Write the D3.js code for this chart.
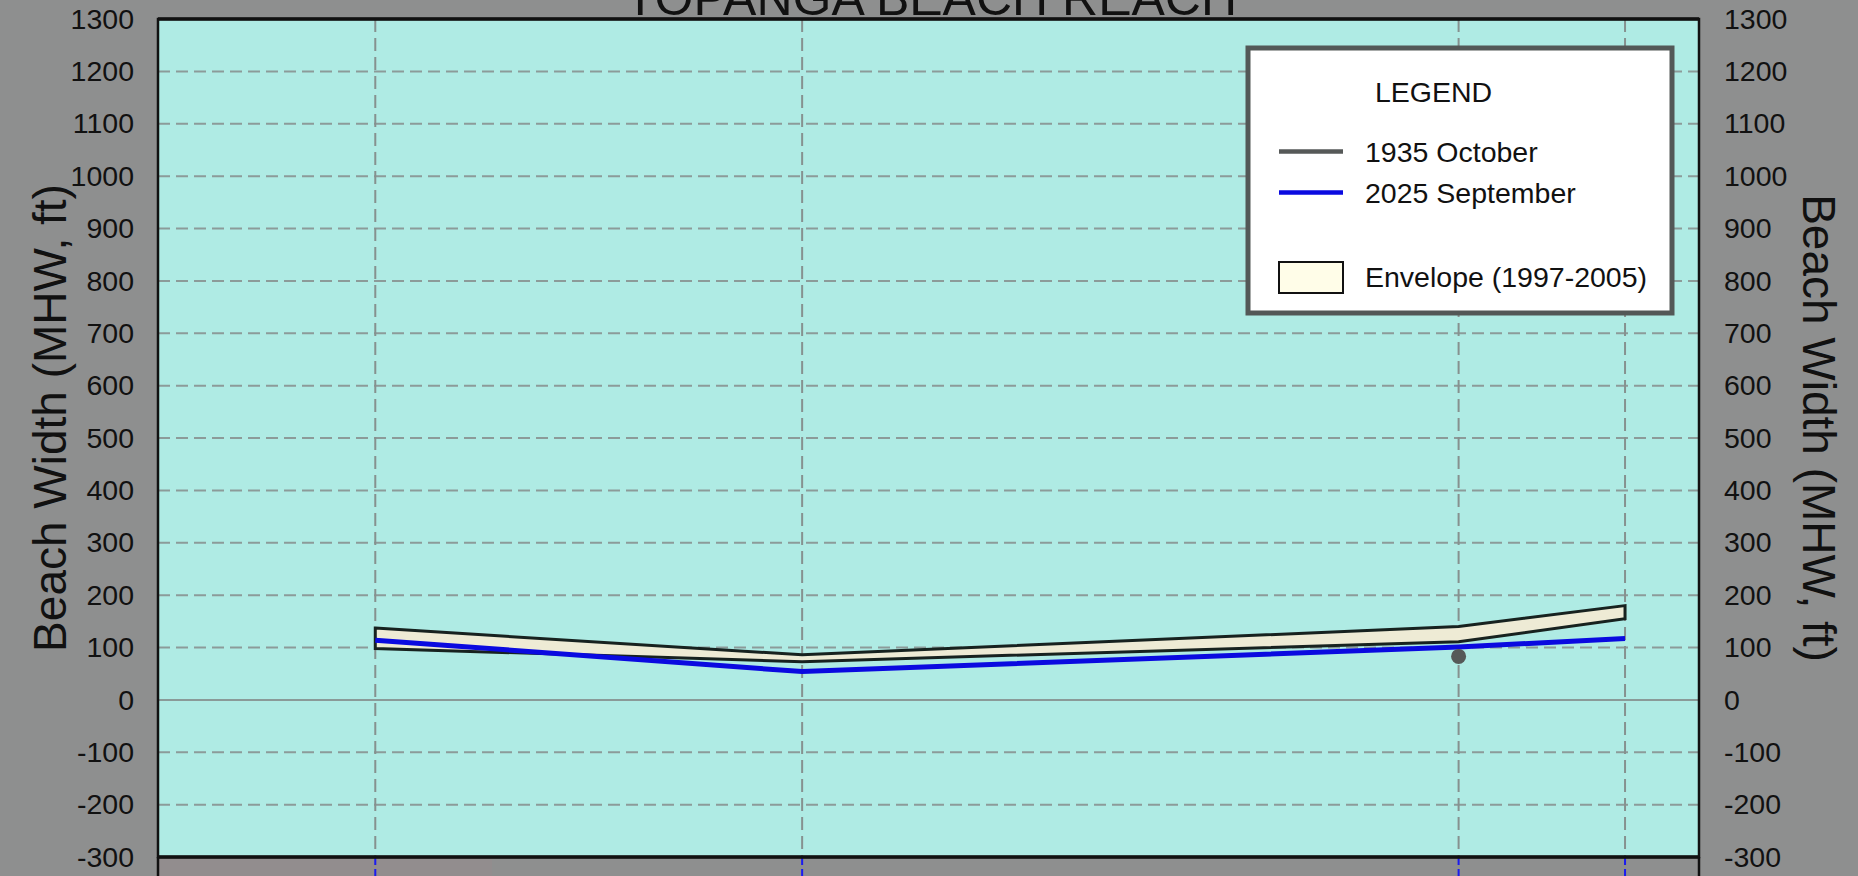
<!DOCTYPE html>
<html>
<head>
<meta charset="utf-8">
<script src="https://cdn.jsdelivr.net/npm/d3@7"></script>
<style>
  html, body { margin: 0; padding: 0; background: #8e8f8f; }
  svg { display: block; }
  text { font-family: "Liberation Sans", Arial, Helvetica, sans-serif; fill: #111; }
</style>
</head>
<body>
<script>
// Transect stations along the reach (alongshore position, 0-1000)
const stations = [141, 418, 844, 952];

// Beach width at MHW (ft) per transect
const envelopeUpper = [137, 86, 140, 180];   // envelope max, 1997-2005
const envelopeLower = [98, 73, 111, 155];    // envelope min, 1997-2005
const sept2025 = [114, 54, 101, 117];        // 2025 September survey

// 1935 October survey exists at one transect only
const oct1935Stations = [844];
const oct1935 = [83];

const yTicks = [-300, -200, -100, 0, 100, 200, 300, 400, 500, 600, 700, 800, 900, 1000, 1100, 1200, 1300];

const legendItems = ["1935 October", "2025 September", "Envelope (1997-2005)"];
const titleText = "TOPANGA BEACH REACH";
const yTitle = "Beach Width (MHW, ft)";

const W = 1858, H = 876;
const plot = { left: 158, right: 1699, top: 19, bottom: 857 };

const svg = d3.select("body").append("svg")
  .attr("width", W).attr("height", H);

svg.append("rect").attr("width", W).attr("height", H).attr("fill", "#8e8f8f");
// slightly warmer strip under the left part of the plot
svg.append("rect")
  .attr("x", plot.left).attr("y", plot.bottom)
  .attr("width", 334).attr("height", H - plot.bottom)
  .attr("fill", "#928d8e");

const x = d3.scaleLinear().domain([0, 1000]).range([plot.left, plot.right]);
const y = d3.scaleLinear().domain([-300, 1300]).range([plot.bottom, plot.top]);

// plot background
svg.append("rect")
  .attr("x", plot.left).attr("y", plot.top)
  .attr("width", plot.right - plot.left).attr("height", plot.bottom - plot.top)
  .attr("fill", "#afebe4");

// horizontal grid
const g = svg.append("g");
g.selectAll("line.hgrid")
  .data(yTicks.filter(d => d !== 0 && d !== -300 && d !== 1300))
  .join("line")
  .attr("class", "hgrid")
  .attr("x1", plot.left).attr("x2", plot.right)
  .attr("y1", d => y(d)).attr("y2", d => y(d))
  .attr("stroke", "#8c9b99").attr("stroke-width", 2)
  .attr("stroke-dasharray", "12,6");

// zero line
g.append("line")
  .attr("x1", plot.left).attr("x2", plot.right)
  .attr("y1", y(0)).attr("y2", y(0))
  .attr("stroke", "#8a9a98").attr("stroke-width", 2);

// vertical grid at transects
g.selectAll("line.vgrid")
  .data(stations)
  .join("line")
  .attr("class", "vgrid")
  .attr("x1", d => x(d)).attr("x2", d => x(d))
  .attr("y1", plot.top).attr("y2", plot.bottom)
  .attr("stroke", "#86918f").attr("stroke-width", 2)
  .attr("stroke-dasharray", "13,6");

// transect markers continuing below the plot
g.selectAll("line.vmark")
  .data(stations)
  .join("line")
  .attr("class", "vmark")
  .attr("x1", d => x(d)).attr("x2", d => x(d))
  .attr("y1", plot.bottom).attr("y2", H)
  .attr("stroke", "#1b1bf0").attr("stroke-width", 2)
  .attr("stroke-dasharray", "8,4");

// envelope 1997-2005
const envData = stations.map((s, i) => ({ s, lo: envelopeLower[i], hi: envelopeUpper[i] }));
svg.append("path")
  .datum(envData)
  .attr("d", d3.area().x(d => x(d.s)).y0(d => y(d.lo)).y1(d => y(d.hi)))
  .attr("fill", "#eeebd5")
  .attr("stroke", "#17221f").attr("stroke-width", 3)
  .attr("stroke-linejoin", "miter");

// 2025 September
svg.append("path")
  .datum(stations.map((s, i) => [s, sept2025[i]]))
  .attr("d", d3.line().x(d => x(d[0])).y(d => y(d[1])))
  .attr("fill", "none")
  .attr("stroke", "#0a0ae0").attr("stroke-width", 5);

// 1935 October
svg.selectAll("circle.oct1935")
  .data(oct1935Stations.map((s, i) => [s, oct1935[i]]))
  .join("circle")
  .attr("class", "oct1935")
  .attr("cx", d => x(d[0])).attr("cy", d => y(d[1]))
  .attr("r", 7.5)
  .attr("fill", "#565958");

// plot frame
svg.append("rect")
  .attr("x", plot.left).attr("y", plot.top)
  .attr("width", plot.right - plot.left).attr("height", plot.bottom - plot.top)
  .attr("fill", "none").attr("stroke", "#111").attr("stroke-width", 2.5);
svg.append("line").attr("x1", plot.left).attr("x2", plot.right)
  .attr("y1", plot.top).attr("y2", plot.top)
  .attr("stroke", "#111").attr("stroke-width", 3.5);
svg.append("line").attr("x1", plot.left).attr("x2", plot.right)
  .attr("y1", plot.bottom).attr("y2", plot.bottom)
  .attr("stroke", "#111").attr("stroke-width", 3.5);
[plot.left, plot.right].forEach(px => {
  svg.append("line").attr("x1", px).attr("x2", px)
    .attr("y1", plot.bottom).attr("y2", H)
    .attr("stroke", "#111").attr("stroke-width", 2.5);
});

// axes
const fmt = d => String(d);
const leftAxis = svg.append("g")
  .attr("transform", `translate(${plot.left},0)`)
  .call(d3.axisLeft(y).tickValues(yTicks).tickFormat(fmt).tickSize(0).tickPadding(24));
const rightAxis = svg.append("g")
  .attr("transform", `translate(${plot.right},0)`)
  .call(d3.axisRight(y).tickValues(yTicks).tickFormat(fmt).tickSize(0).tickPadding(25));
[leftAxis, rightAxis].forEach(a => {
  a.select(".domain").remove();
  a.selectAll("text")
    .attr("font-size", 28.5)
    .attr("font-family", "'Liberation Sans', Arial, sans-serif")
    .attr("fill", "#111");
});

// axis titles
svg.append("text")
  .attr("transform", "translate(50,418) rotate(-90)")
  .attr("text-anchor", "middle").attr("dy", "0.35em")
  .attr("font-size", 46)
  .text(yTitle);
svg.append("text")
  .attr("transform", "translate(1819,428) rotate(90)")
  .attr("text-anchor", "middle").attr("dy", "0.35em")
  .attr("font-size", 46)
  .text(yTitle);

// chart title
svg.append("text")
  .attr("x", 931).attr("y", 15)
  .attr("text-anchor", "middle")
  .attr("font-size", 50)
  .text(titleText);

// legend
const lg = svg.append("g");
lg.append("rect")
  .attr("x", 1248).attr("y", 48).attr("width", 424).attr("height", 265)
  .attr("fill", "#ffffff").attr("stroke", "#535857").attr("stroke-width", 5);
lg.append("text").attr("x", 1375).attr("y", 101.5).attr("font-size", 28.5).text("LEGEND");

lg.append("line").attr("x1", 1279).attr("x2", 1343).attr("y1", 151.5).attr("y2", 151.5)
  .attr("stroke", "#565958").attr("stroke-width", 4.5);
lg.append("text").attr("x", 1365).attr("y", 161.5).attr("font-size", 28.5).text(legendItems[0]);

lg.append("line").attr("x1", 1279).attr("x2", 1343).attr("y1", 192.5).attr("y2", 192.5)
  .attr("stroke", "#0a0ae0").attr("stroke-width", 4.5);
lg.append("text").attr("x", 1365).attr("y", 203).attr("font-size", 28.5).text(legendItems[1]);

lg.append("rect").attr("x", 1279).attr("y", 262).attr("width", 64).attr("height", 31)
  .attr("fill", "#fffde8").attr("stroke", "#111").attr("stroke-width", 2);
lg.append("text").attr("x", 1365).attr("y", 287).attr("font-size", 28.5).text(legendItems[2]);
</script>
</body>
</html>
